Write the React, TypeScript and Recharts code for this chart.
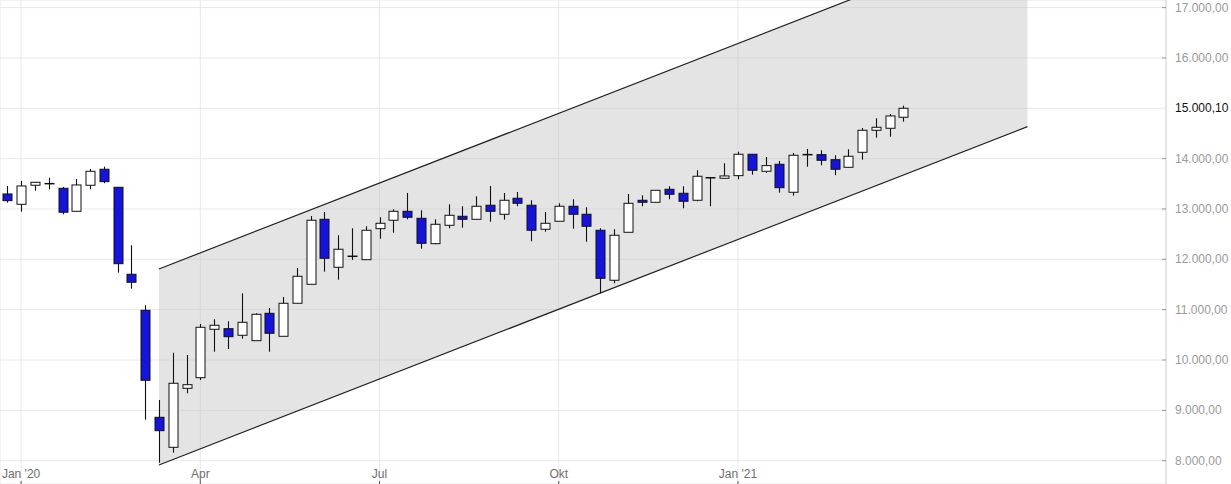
import React from "react";
import {
  ComposedChart,
  Bar,
  Area,
  XAxis,
  YAxis,
  CartesianGrid,
} from "recharts";

// ─── Data (weekly candles, week 0 = 23 Dec 2019) ─────────────────────────────

const opens = [
  13298, 13093, 13471, 13503, 13411, 12954, 13471, 13789, 13431, 11703,
  10988, 8862, 8266, 9438, 9649, 10610, 10622, 10491, 10384, 10928,
  10471, 11127, 11504, 12795, 11842, 12060, 11993, 12609, 12776, 12954,
  12815, 12311, 12676, 12855, 12795, 13074, 12895, 13213, 13074, 12597,
  12756, 13054, 12895, 12577, 11584, 12537, 13173, 13133, 13391, 13312,
  13173, 13616, 13610, 13662, 14087, 13749, 13888, 13332, 14079, 14079,
  13979, 13828, 14126, 14563, 14603, 14822,
];
const highs = [
  13457, 13557, 13530, 13622, 13437, 13596, 13795, 13840, 13431, 12279,
  11087, 9206, 10145, 10100, 10716, 10809, 10769, 11325, 10928, 11033,
  11252, 11828, 12861, 12940, 12478, 12617, 12656, 12835, 12994, 13318,
  12974, 12795, 13093, 13054, 13252, 13457, 13318, 13338, 13173, 12940,
  13113, 13193, 13034, 12617, 12597, 13298, 13272, 13371, 13451, 13451,
  13769, 13630, 13908, 14138, 14087, 14033, 13954, 14113, 14192, 14166,
  14067, 14186, 14609, 14802, 14887, 15052,
];
const lows = [
  13125, 12946, 13364, 13391, 12895, 12954, 13391, 13511, 11735, 11417,
  8814, 7960, 8159, 9339, 9603, 10165, 10219, 10424, 10384, 10165,
  10471, 11127, 11504, 11755, 11596, 11987, 11993, 12410, 12529, 12795,
  12211, 12299, 12617, 12628, 12795, 12747, 12788, 13054, 12358, 12549,
  12756, 12609, 12350, 11325, 11524, 12537, 13054, 13133, 13193, 13014,
  13153, 13054, 13610, 13590, 13682, 13715, 13324, 13264, 13840, 13868,
  13670, 13828, 13980, 14417, 14436, 14734,
];
const closes = [
  13165, 13457, 13530, 13503, 12935, 13477, 13749, 13543, 11913, 11544,
  9597, 8596, 9538, 9510, 10650, 10690, 10463, 10749, 10908, 10531,
  11127, 11663, 12776, 12021, 12200, 12060, 12577, 12716, 12954, 12835,
  12318, 12696, 12875, 12795, 13054, 12954, 13173, 13113, 12577, 12716,
  13054, 12895, 12656, 11623, 12478, 13113, 13133, 13371, 13292, 13153,
  13650, 13620, 13656, 14087, 13769, 13861, 13423, 14067, 14079, 13967,
  13789, 14047, 14563, 14623, 14848, 15000.1,
];

// trend channel (week index, lower / upper bound)
const channelWeeks = [11, 74];
const channelLower = [7915, 14635];
const channelUpper = [11808, 18528];

const xTicks = [1, 14, 27, 40, 53];
const xTickLabels = ["Jan '20", "Apr", "Jul", "Okt", "Jan '21"];
const yTicks = [8000, 9000, 10000, 11000, 12000, 13000, 14000, 15000, 16000, 17000];
const lastPriceLabel = "15.000,10";

// ─── Helpers ─────────────────────────────────────────────────────────────────

const W = 1231;
const H = 484;
const FONT = "Arial, 'Liberation Sans', sans-serif";
const BLUE = "#1414dc";

const candles = opens.map((o, i) => ({
  i,
  open: o,
  high: highs[i],
  low: lows[i],
  close: closes[i],
}));

const channel = channelWeeks.map((w, k) => ({
  i: w,
  lo: channelLower[k],
  hi: channelUpper[k],
}));

const fmtDe = (v: number) =>
  `${Math.floor(v / 1000)}.${String(v % 1000).padStart(3, "0")},00`;

// candle drawn from the [low, high] bar rectangle
const Candle = (props: any) => {
  const { x, y, width, height, payload } = props;
  if (x == null || y == null) return null;
  const top = Math.min(y, y + height);
  const bot = Math.max(y, y + height);
  const { open, high, low, close } = payload;
  const span = high - low || 1;
  const py = (v: number) => top + ((high - v) / span) * (bot - top);
  const cx = Math.round(x + width / 2) + 0.5;
  const up = close >= open;
  const bTop = py(Math.max(open, close));
  const bBot = py(Math.min(open, close));
  const bh = Math.max(bBot - bTop, 0);
  return (
    <g>
      <line x1={cx} x2={cx} y1={top} y2={bot} stroke="#111" strokeWidth={1.1} />
      {bh < 1.5 ? (
        <line x1={cx - 5} x2={cx + 5} y1={bTop} y2={bTop} stroke="#111" strokeWidth={1.5} />
      ) : (
        <rect
          x={cx - 4.5}
          y={bTop}
          width={9}
          height={bh}
          fill={up ? "#fff" : BLUE}
          stroke="#111"
          strokeWidth={1}
        />
      )}
    </g>
  );
};

const XTick = (props: any) => {
  const { x, payload } = props;
  const k = xTicks.indexOf(payload.value);
  return (
    <g>
      <line x1={x} x2={x} y1={H - 3} y2={H} stroke="#555" />
      <text x={x} y={H - 6} textAnchor="middle" fontSize={12} fontFamily={FONT} fill="#6e6e6e">
        {xTickLabels[k]}
      </text>
    </g>
  );
};

const YTick = (props: any) => {
  const { x, y, payload } = props;
  const last = payload.value === 15000;
  return (
    <g>
      {!last && <line x1={x - 12} x2={x - 8} y1={y} y2={y} stroke="#9a9a9a" />}
      <text
        x={x + 1}
        y={y + 4}
        textAnchor="start"
        fontSize={12}
        fontFamily={FONT}
        fill={last ? "#111" : "#9a9a9a"}
      >
        {last ? lastPriceLabel : fmtDe(payload.value)}
      </text>
    </g>
  );
};

// ─── Component ───────────────────────────────────────────────────────────────

export default function App() {
  return (
    <div style={{ position: "absolute", left: 0, top: 0, width: W, height: H, background: "#fff" }}>
      <ComposedChart width={W} height={H} data={candles} margin={{ top: 0, right: 0, bottom: 0, left: 0 }}>
        <CartesianGrid stroke="#e8e8e8" />
        <XAxis
          dataKey="i"
          type="number"
          domain={[-0.53, 84.05]}
          allowDataOverflow
          ticks={xTicks}
          interval={0}
          mirror
          height={20}
          axisLine={false}
          tickLine={false}
          tick={<XTick />}
        />
        <YAxis
          orientation="right"
          type="number"
          domain={[7537, 17151]}
          allowDataOverflow
          ticks={yTicks}
          interval={0}
          width={65}
          tickSize={6}
          tickMargin={2}
          axisLine={{ stroke: "#d8d8d8" }}
          tickLine={false}
          tick={<YTick />}
        />

        {/* trend channel: filled band with both borders stroked */}
        <Area
          data={channel}
          dataKey={(d: any) => [d.lo, d.hi]}
          type="linear"
          stroke="#222"
          strokeWidth={1.2}
          fill="#c4c4c4"
          fillOpacity={0.45}
          dot={false}
          activeDot={false}
          isAnimationActive={false}
        />

        <Bar
          dataKey={(d: any) => [d.low, d.high]}
          barSize={10}
          shape={<Candle />}
          isAnimationActive={false}
        />
      </ComposedChart>
    </div>
  );
}
